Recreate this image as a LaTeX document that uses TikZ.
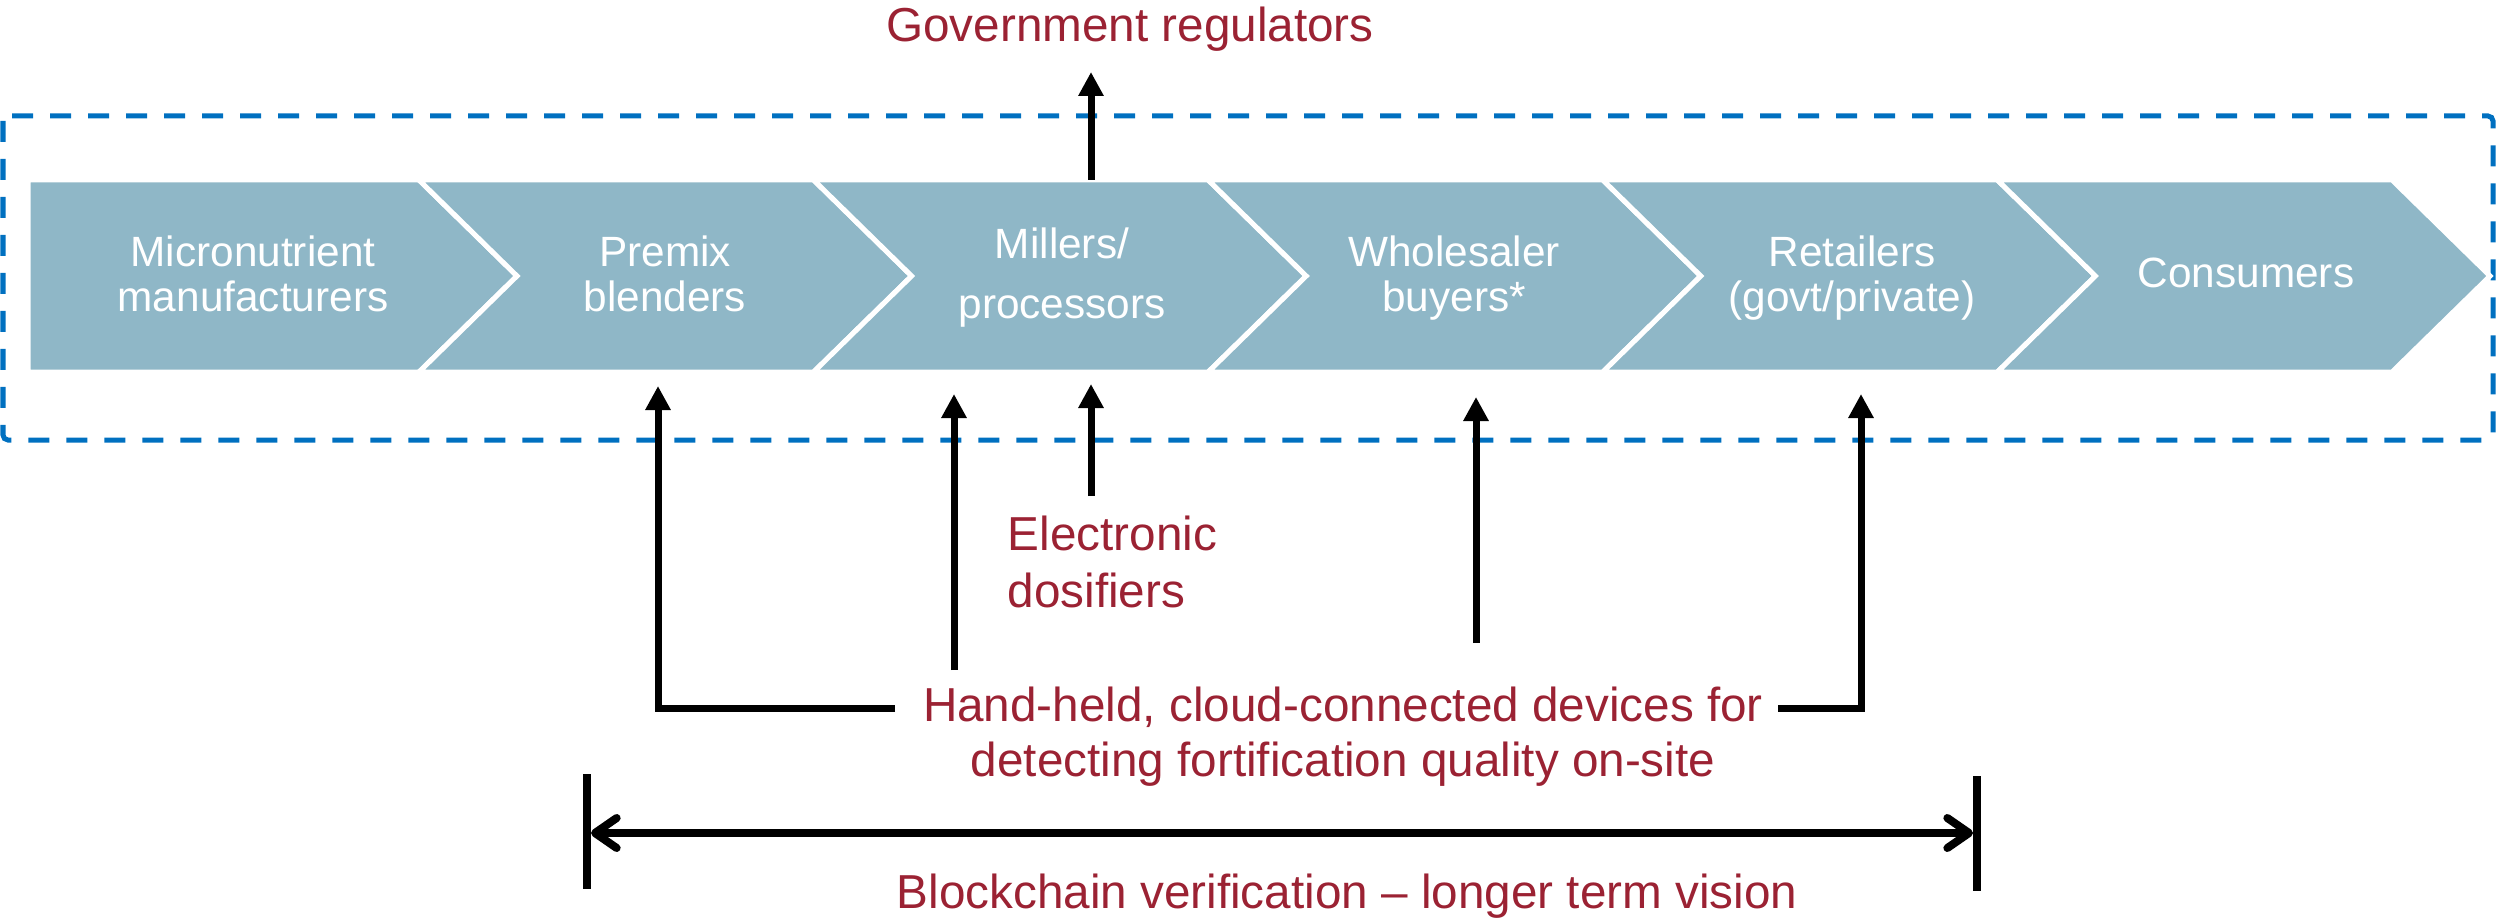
\documentclass[tikz,border=0pt]{standalone}
\usepackage{fontspec}
\setmainfont{Liberation Sans}
\usetikzlibrary{arrows.meta}
\definecolor{chev}{RGB}{143,183,199}
\definecolor{boxblue}{RGB}{0,112,192}
\definecolor{darkred}{RGB}{155,34,51}
\begin{document}
\begin{tikzpicture}[x=0.3pt,y=-0.3pt,
  chevron/.style={fill=chev,draw=white,line width=1.5pt,line join=miter},
  wtext/.style={text=white,font=\fontsize{12.7pt}{13.5pt}\selectfont,align=center,inner sep=0pt,anchor=base},
  rtext/.style={text=darkred,inner sep=0pt},
  arr/.style={draw=black,line width=2.1pt,-{Triangle[length=7.2pt,width=7.2pt]}},
  conn/.style={draw=black,line width=2.1pt},
  dimline/.style={draw=black,line width=2.4pt,{Straight Barb[length=6.5pt,width=9pt,round]}-{Straight Barb[length=6.5pt,width=9pt,round]}},
  bar/.style={draw=black,line width=2.4pt},
  region/.style={draw=boxblue,line width=1.5pt,dash pattern=on 6.3pt off 5.1pt,rounded corners=1.5pt}
]
\useasboundingbox (0,0) rectangle (2496,921);

% dashed region
\draw[region] (3,116) rectangle (2493,440);

% chevrons
\path[chevron] (28,180) -- (419,180) -- (517,276) -- (419,372) -- (28,372) -- cycle;
\foreach \i in {1,...,5}{
  \pgfmathsetmacro{\L}{419+394.6*(\i-1)}
  \pgfmathsetmacro{\R}{\L+394.6}
  \path[chevron] (\L,180) -- (\R,180) -- (\R+98,276) -- (\R,372) -- (\L,372) -- (\L+98,276) -- cycle;
}

% chevron labels (base anchor = baseline of last line)
\node[wtext] (t1) at (253,311) {Micronutrient\\manufacturers};
\node[wtext] (t2) at (665,311) {Premix\\blenders};
\node[wtext] (t3) at (1062,318) {Millers/\\[4.5pt]processors};
\node[wtext] (t4) at (1454,311) {Wholesaler\\buyers*};
\node[wtext] (t5) at (1852,311) {Retailers\\(govt/private)};
\node[wtext] (t6) at (2246,288) {Consumers};

% red labels
\node[rtext,anchor=base,font=\fontsize{14.3pt}{17pt}\selectfont] (gov) at (1130,42) {Government regulators};
\node[rtext,anchor=base west,align=left,font=\fontsize{14.3pt}{17.1pt}\selectfont] (dos) at (1007,607) {Electronic\\dosifiers};
\node[rtext,anchor=base,align=center,font=\fontsize{14.3pt}{16.5pt}\selectfont] (hand) at (1343,776) {Hand-held, cloud-connected devices for\\detecting fortification quality on-site};
\node[rtext,anchor=base,font=\fontsize{14.3pt}{17pt}\selectfont] (block) at (1347,908) {Blockchain verification -- longer term vision};

% coordinates for connectors
\coordinate (gtail) at (1091,180);
\coordinate (gtip) at (1091,72);
\coordinate (dtail) at (1091,496);
\coordinate (dtip) at (1091,384);
\coordinate (hl) at (895,708);
\coordinate (p1tip) at (658,386);
\coordinate (m2tail) at (954,670);
\coordinate (m2tip) at (954,394);
\coordinate (w4tail) at (1476,643);
\coordinate (w4tip) at (1476,397);
\coordinate (hr) at (1778,708);
\coordinate (r5tip) at (1861,394);
\coordinate (blt) at (587,774);
\coordinate (blb) at (587,889);
\coordinate (brt) at (1977,776);
\coordinate (brb) at (1977,891);
\coordinate (bl) at (591,833);
\coordinate (br) at (1973,833);

% connectors
\draw[arr] (gtail) -- (gtip);
\draw[arr] (dtail) -- (dtip);
\draw[arr] (hl) -| (p1tip);
\draw[arr] (m2tail) -- (m2tip);
\draw[arr] (w4tail) -- (w4tip);
\draw[arr] (hr) -| (r5tip);

% blockchain span
\draw[bar] (blt) -- (blb);
\draw[bar] (brt) -- (brb);
\draw[dimline] (bl) -- (br);
\end{tikzpicture}
\end{document}
